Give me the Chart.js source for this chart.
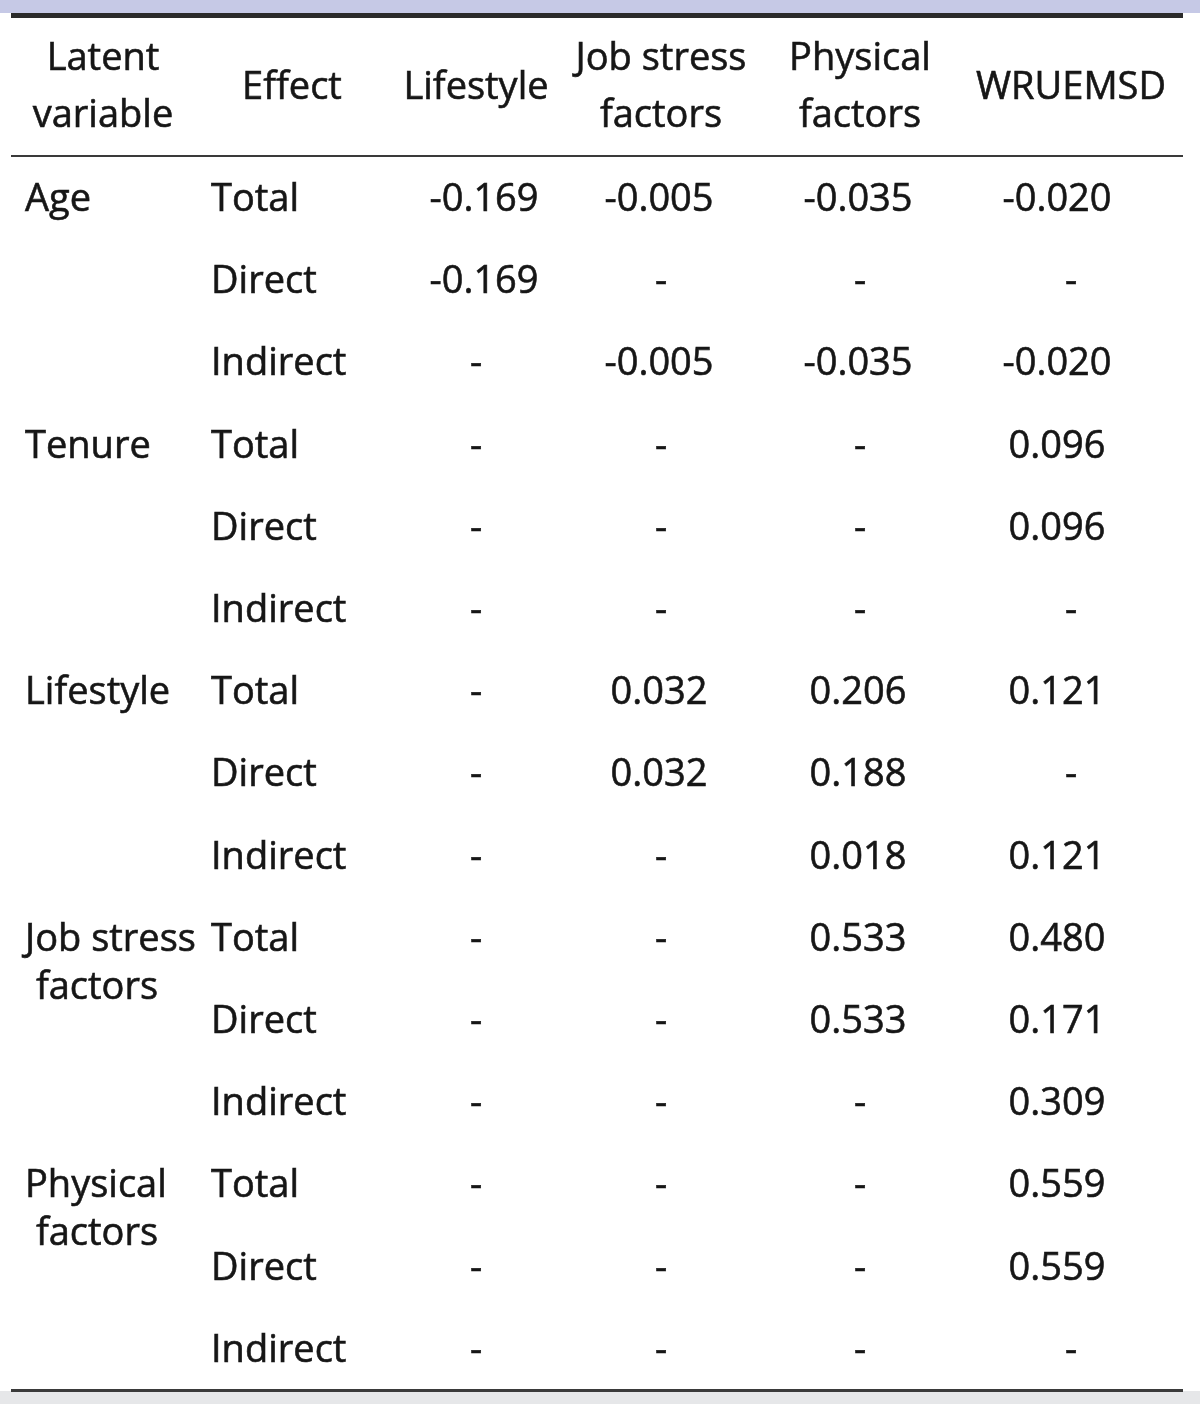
<!DOCTYPE html>
<html>
<head>
<meta charset="utf-8">
<script src="https://cdn.jsdelivr.net/npm/chart.js@4/dist/chart.umd.min.js"></script>
<style>
  body { margin: 0; background: #fff; }
  #wrap { width: 1200px; height: 1404px; position: relative; }
</style>
</head>
<body>
<div id="wrap"><canvas id="tableChart"></canvas></div>
<script>
// table content
const headers = [['Latent', 'variable'], ['Effect'], ['Lifestyle'], ['Job stress', 'factors'], ['Physical', 'factors'], ['WRUEMSD']];
const latentVars = [['Age'], ['Tenure'], ['Lifestyle'], ['Job stress', 'factors'], ['Physical', 'factors']];
const effects = ['Total', 'Direct', 'Indirect'];

// one value per row (5 variables x 3 effects), null = "-"
const lifestyle = [-0.169, -0.169, null, null, null, null, null, null, null, null, null, null, null, null, null];
const jobStress = [-0.005, null, -0.005, null, null, null, 0.032, 0.032, null, null, null, null, null, null, null];
const physical = [-0.035, null, -0.035, null, null, null, 0.206, 0.188, 0.018, 0.533, 0.533, null, null, null, null];
const wruemsd = [-0.020, null, -0.020, 0.096, 0.096, null, 0.121, null, 0.121, 0.480, 0.171, 0.309, 0.559, 0.559, null];

const valueCols = [lifestyle, jobStress, physical, wruemsd];

// layout (pixels on the x scale, which runs 0..1200)
const colCenter = [103, 292, 476, 661, 860, 1071];
const numCenter = [484, 659, 858, 1057];
const leftX = [25, 211];
const wrapCenter = 97;   // second line of a wrapped row label
const FONT = '38px "Open Sans", "Noto Sans", sans-serif';
const INK = '#161616';

const rowLabels = [];
latentVars.forEach((v, i) => effects.forEach(e => rowLabels.push(i + '-' + e)));

function fmt(v) {
    return v === null ? '-' : v.toFixed(3);
}

const datasets = valueCols.map((col, c) => ({
    label: headers[c + 2].join(' '),
    data: col.map((v, r) => ({ x: v === null ? colCenter[c + 2] : numCenter[c], y: rowLabels[r] })),
    pointRadius: 0,
    values: col
}));

const tablePlugin = {
    id: 'tablePlugin',
    beforeDraw(chart) {
        const ctx = chart.ctx;
        const xs = chart.scales.x;
        const area = chart.chartArea;
        const x0 = xs.getPixelForValue(11), x1 = xs.getPixelForValue(1183);
        ctx.save();
        // bands top and bottom
        ctx.fillStyle = '#c6c9e6';
        ctx.fillRect(0, 0, chart.width, 13);
        ctx.fillStyle = '#e6e7e9';
        ctx.fillRect(0, area.bottom + 1, chart.width, chart.height - area.bottom);
        ctx.fillStyle = '#2b2b2b';
        ctx.fillRect(x0, 13, x1 - x0, 5);
        ctx.fillStyle = '#3a3a3a';
        ctx.fillRect(x0, area.top - 2, x1 - x0, 2);
        ctx.fillRect(x0, area.bottom - 1, x1 - x0, 3);
        ctx.restore();
    },
    afterDatasetsDraw(chart) {
        const ctx = chart.ctx;
        const xs = chart.scales.x, ys = chart.scales.y;
        const dy = 2;
        ctx.save();
        ctx.font = FONT;
        ctx.fillStyle = INK;
        ctx.strokeStyle = INK;
        ctx.lineWidth = 0.6;
        ctx.textBaseline = 'middle';
        const put = (t, x, y) => { ctx.fillText(t, x, y); ctx.strokeText(t, x, y); };

        // header
        ctx.textAlign = 'center';
        headers.forEach((h, c) => {
            const x = xs.getPixelForValue(colCenter[c]);
            if (h.length === 2) {
                put(h[0], x, 59);
                put(h[1], x, 116);
            } else {
                put(h[0], x, 88);
            }
        });

        // latent variable and effect columns
        rowLabels.forEach((lab, r) => {
            const y = ys.getPixelForValue(r) + dy;
            if (r % 3 === 0) {
                const v = latentVars[r / 3];
                ctx.textAlign = 'left';
                put(v[0], xs.getPixelForValue(leftX[0]), y);
                if (v.length === 2) {
                    ctx.textAlign = 'center';
                    put(v[1], xs.getPixelForValue(wrapCenter), y + 48);
                }
            }
            ctx.textAlign = 'left';
            put(effects[r % 3], xs.getPixelForValue(leftX[1]), y);
        });

        // values, placed at the dataset points
        ctx.textAlign = 'center';
        chart.data.datasets.forEach((ds, i) => {
            chart.getDatasetMeta(i).data.forEach((pt, r) => {
                put(fmt(ds.values[r]), pt.x, pt.y + dy);
            });
        });
        ctx.restore();
    }
};

new Chart(document.getElementById('tableChart'), {
    type: 'scatter',
    data: { datasets: datasets },
    options: {
        responsive: true,
        maintainAspectRatio: false,
        animation: false,
        layout: { padding: { top: 157, bottom: 14, left: 0, right: 0 } },
        plugins: { legend: { display: false }, tooltip: { enabled: false } },
        scales: {
            x: { type: 'linear', min: 0, max: 1200, display: false },
            y: { type: 'category', labels: rowLabels, offset: true, display: false }
        }
    },
    plugins: [tablePlugin]
});
</script>
</body>
</html>
